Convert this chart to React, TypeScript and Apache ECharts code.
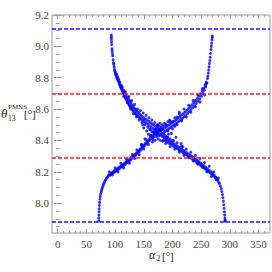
import React, { useEffect, useRef } from "react";
import * as echarts from "echarts";

const xMajorTicks = [0, 50, 100, 150, 200, 250, 300, 350];
const xMinorTicks = [10, 20, 30, 40, 60, 70, 80, 90, 110, 120, 130, 140, 160, 170, 180, 190, 210, 220, 230, 240, 260, 270, 280, 290, 310, 320, 330, 340, 360];
const yMajorTicks = [8.0, 8.2, 8.4, 8.6, 8.8, 9.0, 9.2];
const yMinorTicks = [7.85, 7.9, 7.95, 8.05, 8.1, 8.15, 8.25, 8.3, 8.35, 8.45, 8.5, 8.55, 8.65, 8.7, 8.75, 8.85, 8.9, 8.95, 9.05, 9.1, 9.15];

const blueLines = [9.114, 7.883];
const redLines = [8.704, 8.293];

const upperLeft = [
  [93.4, 9.072], [93.5, 9.06], [93.6, 9.048], [93.8, 9.03], [94.1, 9.012], [94.6, 8.985], [94.9, 8.97], [95.3, 8.955], [95.8, 8.94], [96.6, 8.915],
  [97.2, 8.895], [97.6, 8.885], [98.4, 8.868], [99.1, 8.852], [99.6, 8.842], [100.2, 8.835], [100.8, 8.826], [101.4, 8.818], [102.1, 8.81], [102.6, 8.822],
  [103.2, 8.8], [103.9, 8.793], [104.5, 8.806], [105.1, 8.782], [105.8, 8.776], [106.4, 8.79], [107, 8.765], [107.7, 8.757], [108.3, 8.772], [109, 8.745],
  [109.8, 8.738], [110.5, 8.752], [111.2, 8.728], [112, 8.72], [112.6, 8.736], [113.3, 8.71], [114, 8.703], [114.8, 8.72], [115.5, 8.694], [116.2, 8.686],
  [117, 8.705], [117.8, 8.676], [118.5, 8.668], [119.3, 8.69], [120, 8.66], [120.8, 8.652], [121.5, 8.676], [122.3, 8.643], [123, 8.636], [123.8, 8.662],
  [124.5, 8.628], [125.3, 8.62], [126, 8.65], [126.8, 8.612], [127.5, 8.64], [128.4, 8.604], [129.2, 8.628], [130, 8.596], [130.8, 8.618], [131.7, 8.588],
  [132.5, 8.61], [133.4, 8.58], [134.2, 8.602], [135, 8.572], [136, 8.595], [137, 8.565], [138, 8.586], [139, 8.558], [140, 8.578], [141, 8.55],
  [142.2, 8.57], [143.3, 8.543], [144.5, 8.562], [145.6, 8.536], [147, 8.553], [148.3, 8.528], [149.6, 8.545], [151, 8.52], [152.5, 8.537], [154, 8.512],
  [155.5, 8.53], [157, 8.503], [158.6, 8.522], [160, 8.494], [161.5, 8.513], [163, 8.486], [164.6, 8.505], [166, 8.476], [167.5, 8.498], [169, 8.467],
  [170.6, 8.49], [172, 8.458], [173.5, 8.48], [175, 8.448], [176.6, 8.47], [178, 8.44], [179.5, 8.462], [181, 8.43],
];
const upperLeftSpread = [
  [112, 8.745], [115, 8.68], [118, 8.71], [121, 8.64], [124, 8.68], [127, 8.6], [129, 8.655], [132, 8.57], [134, 8.63], [137, 8.55],
  [139, 8.6], [142, 8.53], [144, 8.59], [147, 8.515], [149, 8.575], [152, 8.5], [154, 8.56], [157, 8.485], [159, 8.545], [162, 8.47],
  [164, 8.53], [167, 8.455], [169, 8.515], [172, 8.44], [174, 8.5],
];

const lowerRight = [
  [183, 8.425], [184.5, 8.405], [186, 8.418], [187.5, 8.398], [189, 8.41], [190.5, 8.39], [192, 8.403], [193.5, 8.383], [195, 8.396], [196.5, 8.376],
  [198, 8.389], [199.5, 8.369], [201, 8.382], [202.5, 8.362], [204, 8.375], [205.5, 8.355], [207, 8.368], [208.5, 8.348], [210, 8.36], [211.5, 8.34],
  [213, 8.353], [214.5, 8.333], [216, 8.345], [217.5, 8.325], [219, 8.338], [220.5, 8.318], [222, 8.33], [223.5, 8.31], [225, 8.322], [226.5, 8.302],
  [228, 8.314], [229.5, 8.295], [231, 8.306], [232.5, 8.287], [234, 8.298], [235.5, 8.279], [237, 8.29], [238.5, 8.27], [240, 8.282], [241.5, 8.262],
  [243, 8.273], [244.5, 8.254], [246, 8.265], [247.5, 8.245], [249, 8.256], [250.5, 8.237], [252, 8.247], [253.5, 8.228], [255, 8.238], [256.5, 8.22],
  [258, 8.229], [259.5, 8.21], [261, 8.22], [262.5, 8.202], [264, 8.21], [265.5, 8.193], [267, 8.2], [268.5, 8.184], [270, 8.19], [271.5, 8.174],
  [273, 8.178], [274.5, 8.163], [276, 8.165], [277.5, 8.15], [279, 8.148], [280.5, 8.133], [282, 8.125], [283.5, 8.108], [285, 8.093], [286, 8.075],
  [287.2, 8.055], [288, 8.035], [288.8, 8.012], [289.5, 7.99], [290, 7.968], [290.5, 7.945], [290.9, 7.925], [291.3, 7.905], [291.6, 7.892], [292, 7.885],
];
const lowerRightSpread = [
  [188, 8.38], [192, 8.42], [196, 8.36], [200, 8.4], [204, 8.345], [208, 8.385], [212, 8.325], [216, 8.365], [220, 8.305], [224, 8.345],
  [228, 8.29], [232, 8.325], [236, 8.27], [240, 8.305], [244, 8.25], [248, 8.285], [252, 8.23], [256, 8.26], [260, 8.2], [264, 8.235],
  [268, 8.17], [272, 8.2], [276, 8.15], [280, 8.16],
];

const lowerLeft = [
  [71.5, 7.886], [71.6, 7.905], [71.8, 7.925], [72, 7.945], [72.2, 7.965], [72.5, 7.985], [72.9, 8.005], [73.4, 8.025], [74, 8.042], [74.8, 8.058],
  [75.7, 8.072], [76.6, 8.085], [77.6, 8.097], [78.7, 8.108], [79.8, 8.12], [81, 8.13], [82.2, 8.14], [83.5, 8.15], [85, 8.158], [86.5, 8.166],
  [88, 8.174], [89.5, 8.182], [91, 8.178], [92.5, 8.19], [94, 8.186], [95.5, 8.198], [97, 8.194], [98.5, 8.206], [100, 8.2], [101.5, 8.214],
  [103, 8.208], [104.5, 8.222], [106, 8.216], [107.5, 8.23], [109, 8.224], [110.5, 8.238], [112, 8.232], [113.5, 8.247], [115, 8.24], [116.5, 8.256],
  [118, 8.249], [119.5, 8.265], [121, 8.258], [122.5, 8.274], [124, 8.267], [125.5, 8.283], [127, 8.276], [128.5, 8.292], [130, 8.286], [131.5, 8.302],
  [133, 8.296], [134.5, 8.312], [136, 8.306], [137.5, 8.322], [139, 8.317], [140.5, 8.333], [142, 8.328], [143.5, 8.345], [145, 8.34], [146.5, 8.357],
  [148, 8.352], [149.5, 8.369], [151, 8.364], [152.5, 8.381], [154, 8.376], [155.5, 8.393], [157, 8.388], [158.5, 8.405], [160, 8.4], [161.5, 8.417],
  [163, 8.412], [164.5, 8.428], [166, 8.424], [167.5, 8.44], [169, 8.436], [170.5, 8.452], [172, 8.446], [173.5, 8.462], [175, 8.455], [176.6, 8.47],
  [178, 8.462], [179.5, 8.476], [181, 8.468],
];
const lowerLeftSpread = [
  [90, 8.2], [95, 8.18], [100, 8.225], [105, 8.2], [110, 8.255], [115, 8.225], [120, 8.28], [125, 8.255], [130, 8.31], [134, 8.285],
  [138, 8.34], [142, 8.31], [146, 8.375], [150, 8.345], [154, 8.405], [158, 8.375], [162, 8.435], [166, 8.405], [170, 8.47], [174, 8.435],
];

const upperRight = [
  [183, 8.47], [184.5, 8.45], [186, 8.478], [187.5, 8.458], [189, 8.486], [190.5, 8.466], [192, 8.494], [193.5, 8.474], [195, 8.502], [196.5, 8.482],
  [198, 8.51], [199.5, 8.49], [201, 8.518], [202.5, 8.498], [204, 8.526], [205.5, 8.506], [207, 8.534], [208.5, 8.515], [210, 8.543], [211.5, 8.524],
  [213, 8.552], [214.5, 8.533], [216, 8.562], [217.5, 8.542], [219, 8.572], [220.5, 8.552], [222, 8.582], [223.5, 8.562], [225, 8.593], [226.5, 8.573],
  [228, 8.604], [229.5, 8.585], [231, 8.616], [232.5, 8.597], [234, 8.628], [235.5, 8.61], [237, 8.641], [238.5, 8.622], [240, 8.654], [241.5, 8.636],
  [243, 8.668], [244.5, 8.65], [246, 8.683], [247.5, 8.665], [249, 8.698], [250.5, 8.682], [252, 8.715], [253.2, 8.7], [254.4, 8.733], [255.6, 8.72],
  [256.8, 8.752], [258, 8.742], [259, 8.772], [260, 8.765], [261, 8.795], [261.8, 8.81], [262.5, 8.83], [263.2, 8.85], [263.9, 8.87], [264.5, 8.89],
  [265.1, 8.91], [265.7, 8.93], [266.3, 8.955], [267, 8.98], [267.6, 9.0], [268.3, 9.02], [268.8, 9.04], [269.2, 9.055], [269.5, 9.065],
];
const upperRightSpread = [
  [188, 8.5], [192, 8.46], [196, 8.52], [200, 8.475], [204, 8.545], [208, 8.5], [212, 8.57], [216, 8.525], [220, 8.6], [224, 8.55],
  [228, 8.625], [232, 8.58], [236, 8.655], [240, 8.615], [244, 8.69], [248, 8.645], [252, 8.73], [256, 8.69], [258, 8.76],
];

const crossing = [
  [155, 8.46], [158, 8.44], [160, 8.47], [162, 8.43], [164, 8.455], [165, 8.39], [167, 8.42], [168, 8.45], [170, 8.4], [171, 8.475],
  [172, 8.425], [174, 8.5], [175, 8.41], [176, 8.49], [177, 8.43], [178, 8.51], [179, 8.4], [180, 8.485], [181, 8.445], [182, 8.5],
  [183, 8.395], [184, 8.49], [185, 8.44], [186, 8.51], [188, 8.43], [189, 8.5], [190, 8.42], [192, 8.52], [193, 8.44], [195, 8.53],
  [196, 8.41], [198, 8.445], [200, 8.52], [202, 8.4], [204, 8.49], [206, 8.42], [208, 8.55], [152, 8.41], [150, 8.48], [148, 8.5],
  [146, 8.37], [212, 8.58], [215, 8.38], [218, 8.36],
];

const POINT = "#0000ff";
const FRAME = "#999999";
const LABEL = "#444444";
const SERIF = "Liberation Serif";

export default function App() {
  const ref = useRef<HTMLDivElement>(null);
  useEffect(() => {
    if (!ref.current) return;
    const chart = echarts.init(ref.current, null, { renderer: "svg" });
    const xRange = { min: -10, max: 370, type: "value" as const };
    const yRange = { min: 7.81, max: 9.2, type: "value" as const };
    const tickAxis = (base: any, position: string, values: number[], len: number, labels: boolean) => ({
      ...base,
      position,
      axisLine: { show: false },
      splitLine: { show: false },
      axisTick: { show: true, inside: true, length: len, customValues: values, lineStyle: { color: FRAME, width: 1 } },
      axisLabel: labels
        ? {
            show: true,
            customValues: values,
            color: LABEL,
            fontFamily: "Liberation Serif, Times New Roman, serif",
            fontSize: 11,
            margin: position === "bottom" ? 5 : 3,
            formatter: (v: number) => (position === "left" ? v.toFixed(1) : String(Math.round(v))),
          }
        : { show: false },
    });
    const groups = [upperLeft, upperLeftSpread, lowerRight, lowerRightSpread, lowerLeft, lowerLeftSpread, upperRight, upperRightSpread, crossing];
    const series: any[] = groups.map((d) => ({
      type: "scatter",
      data: d,
      symbol: "circle",
      symbolSize: 3,
      itemStyle: { color: POINT },
      xAxisIndex: 0,
      yAxisIndex: 0,
    }));
    series[0].markLine = {
      silent: true,
      symbol: ["none", "none"],
      label: { show: false },
      data: [
        ...blueLines.map((v) => ({ yAxis: v, lineStyle: { color: "#1a1aff", type: [4, 2], width: 1.6 } })),
        ...redLines.map((v) => ({ yAxis: v, lineStyle: { color: "#ff1a1a", type: [4, 2], width: 1.6 } })),
      ],
    };
    chart.setOption({
      animation: false,
      grid: { left: 52, top: 15, width: 218, height: 218, show: true, borderColor: FRAME, borderWidth: 1, backgroundColor: "transparent" },
      xAxis: [
        tickAxis(xRange, "bottom", xMajorTicks, 4, true),
        tickAxis(xRange, "bottom", xMinorTicks, 2, false),
        tickAxis(xRange, "top", xMajorTicks, 4, false),
        tickAxis(xRange, "top", xMinorTicks, 2, false),
      ],
      yAxis: [
        tickAxis(yRange, "left", yMajorTicks, 4, true),
        tickAxis(yRange, "left", yMinorTicks, 2, false),
        tickAxis(yRange, "right", yMajorTicks, 4, false),
        tickAxis(yRange, "right", yMinorTicks, 2, false),
      ],
      series,
      graphic: [
        { type: "text", x: 1, y: 113, style: { text: "θ", font: `italic 13px "${SERIF}"`, fill: "#222", textVerticalAlign: "middle" } },
        { type: "text", x: 8, y: 107, style: { text: "PMNS", font: `7px "${SERIF}"`, fill: "#222", textVerticalAlign: "middle" } },
        { type: "text", x: 8, y: 118.5, style: { text: "13", font: `7.5px "${SERIF}"`, fill: "#222", textVerticalAlign: "middle" } },
        { type: "text", x: 24, y: 113.5, style: { text: "[°]", font: `11px "${SERIF}"`, fill: "#222", textVerticalAlign: "middle" } },
        { type: "text", x: 149, y: 255, style: { text: "α", font: `italic 12px "${SERIF}"`, fill: "#222", textVerticalAlign: "middle" } },
        { type: "text", x: 156.5, y: 258.5, style: { text: "2", font: `8px "${SERIF}"`, fill: "#222", textVerticalAlign: "middle" } },
        { type: "text", x: 162, y: 256, style: { text: "[°]", font: `11px "${SERIF}"`, fill: "#222", textVerticalAlign: "middle" } },
      ],
    });
    return () => chart.dispose();
  }, []);
  return <div ref={ref} style={{ position: "absolute", left: 0, top: 0, width: 272, height: 272 }} />;
}
